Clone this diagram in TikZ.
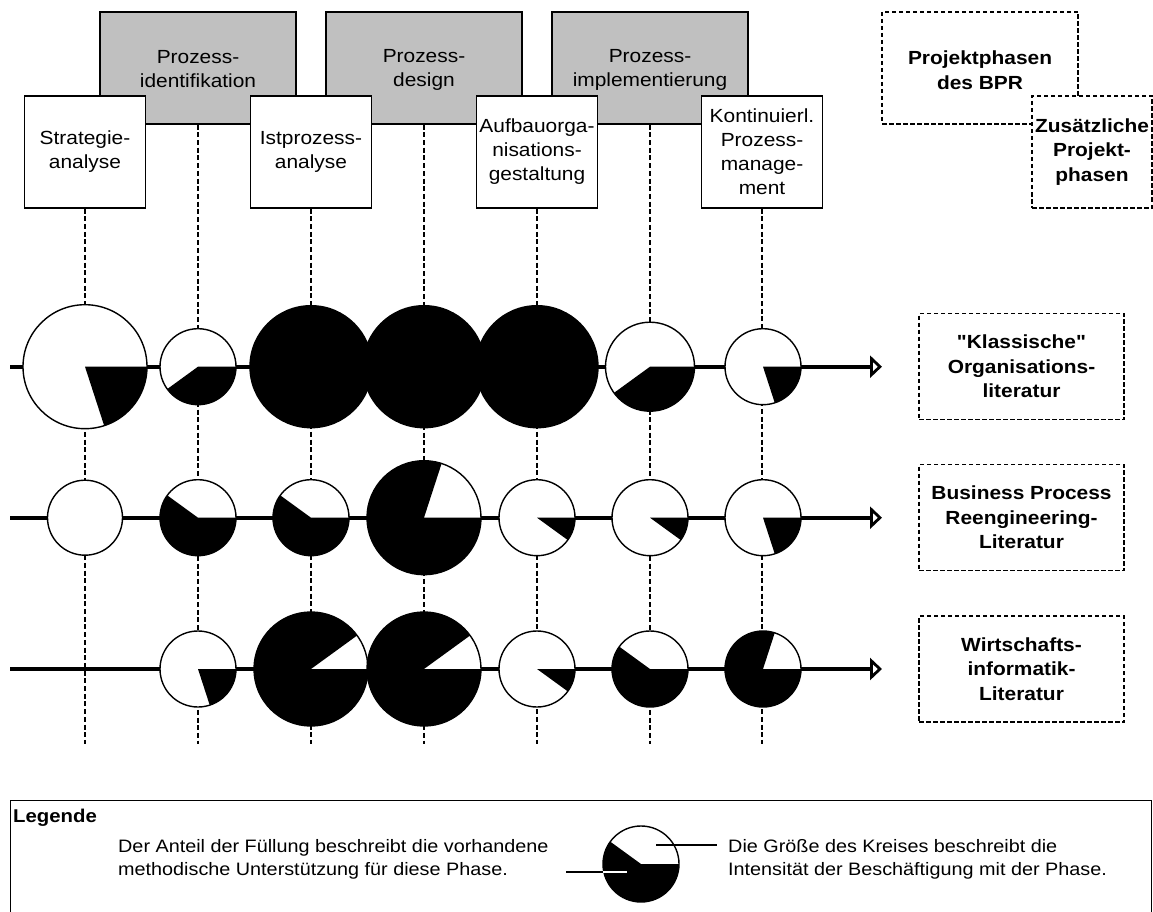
\documentclass[tikz,border=0pt]{standalone}
\usepackage{fontspec}
\setmainfont{Liberation Sans}[FakeStretch=1.1, Ligatures=TeXOff]
\usetikzlibrary{arrows.meta}

\definecolor{phasegray}{RGB}{192,192,192}
\newcommand\phasefont{\fontsize{19}{24}\selectfont}
\newcommand\keyfont{\fontsize{19}{24.5}\selectfont\bfseries}
\newcommand\notefont{\fontsize{18}{23.3}\selectfont}

% a circle node with a black sector from angle #5 to angle #6
\newcommand\wedgedisc[6]{%
  \node[disc, minimum size=2*#4pt] (#1) at (#2,#3) {};
  \fill (#1.center) -- ++(#5:#4) arc[start angle=#5, end angle=#6, radius=#4] -- cycle;
}

\begin{document}
\begin{tikzpicture}[x=1pt, y=1pt,
  phase/.style={draw, line width=1.3pt, fill=phasegray, minimum width=196pt,
    minimum height=112pt, inner sep=0pt},
  phasetext/.style={align=center, font=\phasefont, inner sep=0pt},
  subphase/.style={draw, line width=1.3pt, fill=white, minimum width=121pt,
    minimum height=112pt, inner sep=0pt, align=center, font=\phasefont},
  keybox/.style={draw, line width=1.4pt, dash pattern=on 4.5pt off 2.5pt,
    inner sep=0pt, align=center, font=\keyfont},
  guide/.style={line width=1.5pt, dash pattern=on 5pt off 2.7pt},
  axis/.style={line width=3.6pt,
    -{Triangle[open, length=12pt, width=22pt, line width=2.8pt]}},
  disc/.style={circle, draw, line width=1.4pt, fill=white, inner sep=0pt, outer sep=0pt},
  fulldisc/.style={disc, fill=black},
  note/.style={align=left, font=\notefont, inner sep=0pt},
  pointer/.style={line width=1.4pt},
]
\useasboundingbox (0,0) rectangle (1153,-912);

% main phases of BPR (grey)
\node[phase] (pid) at (198,-68) {};
\node[phasetext] (pid-t) at (198,-69) {Prozess-\\identifikation};
\node[phase] (pd) at (424,-68) {};
\node[phasetext] (pd-t) at (424,-70) {Prozess-\\design};
\node[phase] (pim) at (650,-68) {};
\node[phasetext] (pim-t) at (650,-70) {Prozess-\\implementierung};

% additional phases (white)
\node[subphase] (sa) at (85,-152) {Strategie-\\analyse};
\node[subphase] (ia) at (311,-152) {Istprozess-\\analyse};
\node[subphase] (ao) at (537,-152) {Aufbauorga-\\nisations-\\gestaltung};
\node[subphase] (kpm) at (762,-152) {Kontinuierl.\\Prozess-\\manage-\\ment};

% key for the two kinds of phases
\node[keybox, minimum width=196pt, minimum height=112pt] (bpr) at (980,-68) {};
\node[phasetext, font=\keyfont] (bpr-t) at (980,-70) {Projektphasen\\des BPR};
\node[keybox, fill=white, minimum width=120pt, minimum height=112pt] (extra) at (1092,-152)
  {Zusätzliche\\Projekt-\\phasen};

% guide lines below each phase
\coordinate (guideend) at (0,-744);
\foreach \n in {sa,pid,ia,pd,ao,pim,kpm}
  \draw[guide] (\n.south) -- (\n.south |- guideend);

% one axis per kind of literature
\foreach \r/\y in {1/-366.7, 2/-517.7, 3/-669} {
  \coordinate (s\r) at (10,\y);
  \coordinate (e\r) at (882,\y);
  \draw[axis] (s\r) -- (e\r);
}

% literature labels
\node[keybox, minimum width=205pt, minimum height=106pt] (lit1) at (1021.5,-366.7)
  {"Klassische"\\Organisations-\\literatur};
\node[keybox, minimum width=205pt, minimum height=106pt] (lit2) at (1021.5,-517.7)
  {Business Process\\Reengineering-\\Literatur};
\node[keybox, minimum width=205pt, minimum height=106pt] (lit3) at (1021.5,-669)
  {Wirtschafts-\\informatik-\\Literatur};

% row 1: classic organisation literature
\wedgedisc{a1}{85}{-366.7}{62}{-72}{0}
\wedgedisc{a2}{198}{-366.7}{38}{-144}{0}
\node[fulldisc, minimum size=122pt] (a3) at (311,-366.7) {};
\node[fulldisc, minimum size=122pt] (a4) at (424,-366.7) {};
\node[fulldisc, minimum size=122pt] (a5) at (537,-366.7) {};
\wedgedisc{a6}{650}{-366.7}{44.5}{-144}{0}
\wedgedisc{a7}{763}{-366.7}{38}{-72}{0}

% row 2: BPR literature
\node[disc, minimum size=75pt] (b1) at (85,-517.7) {};
\wedgedisc{b2}{198}{-517.7}{38}{144}{360}
\wedgedisc{b3}{311}{-517.7}{38}{144}{360}
\wedgedisc{b4}{424}{-517.7}{57}{72}{360}
\wedgedisc{b5}{537}{-517.7}{38}{-36}{0}
\wedgedisc{b6}{650}{-517.7}{38}{-36}{0}
\wedgedisc{b7}{763}{-517.7}{38}{-72}{0}

% row 3: business informatics literature
\wedgedisc{c2}{198}{-669}{38}{-72}{0}
\wedgedisc{c3}{311}{-669}{57}{36}{360}
\wedgedisc{c4}{424}{-669}{57}{36}{360}
\wedgedisc{c5}{537}{-669}{38}{-36}{0}
\wedgedisc{c6}{650}{-669}{38}{144}{360}
\wedgedisc{c7}{763}{-669}{38}{72}{360}

% legend
\node[draw, line width=1.4pt, anchor=north west, minimum width=1141pt, minimum height=130pt,
  inner sep=0pt] (legend) at (10,-800) {};
\node[font=\fontsize{18.5}{22}\selectfont\bfseries, anchor=base west, inner sep=0pt] (lg)
  at (13,-822) {Legende};
\node[note, anchor=west] (lt) at (118,-859)
  {Der Anteil der Füllung beschreibt die vorhandene\\methodische Unterstützung für diese Phase.};
\node[note, anchor=west] (rt) at (728,-859)
  {Die Größe des Kreises beschreibt die\\Intensität der Beschäftigung mit der Phase.};
\wedgedisc{lc}{641}{-864}{38}{144}{360}
\coordinate (lp1) at (566,-872);
\coordinate (lp2) at (627,-872);
\coordinate (rp1) at (656,-845);
\coordinate (rp2) at (717,-845);
\draw[pointer] (lp1) -- (lp2);
\draw[pointer, white] (lc.west |- lp1) -- (lp2);
\draw[pointer] (rp1) -- (rp2);
\end{tikzpicture}
\end{document}
